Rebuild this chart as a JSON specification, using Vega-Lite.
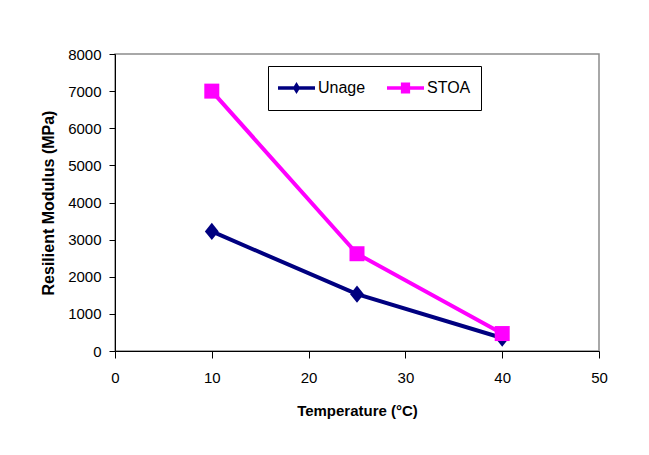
{
  "$schema": "https://vega.github.io/schema/vega-lite/v6.json",
  "autosize": {"type": "none"},
  "width": 484,
  "height": 297,
  "padding": {"left": 115, "top": 54, "right": 50, "bottom": 104},
  "background": "white",
  "config": {
    "font": "Liberation Sans",
    "view": {"stroke": "#8c8c8c", "strokeWidth": 1.5},
    "axis": {
      "grid": false,
      "domainColor": "black",
      "domainWidth": 1,
      "tickColor": "black",
      "tickWidth": 1,
      "labelColor": "black",
      "titleColor": "black",
      "labelFont": "Liberation Sans",
      "titleFont": "Liberation Sans",
      "labelFontSize": 15,
      "titleFontSize": 15,
      "titleFontWeight": "bold"
    }
  },
  "data": {
    "values": [
      {"series": "Unage", "temp": 10, "mr": 3220},
      {"series": "Unage", "temp": 25, "mr": 1530},
      {"series": "Unage", "temp": 40, "mr": 350},
      {"series": "STOA", "temp": 10, "mr": 7000},
      {"series": "STOA", "temp": 25, "mr": 2620},
      {"series": "STOA", "temp": 40, "mr": 470}
    ]
  },
  "encoding": {
    "x": {
      "field": "temp",
      "type": "quantitative",
      "title": "Temperature (°C)",
      "scale": {"domain": [0, 50], "nice": false},
      "axis": {"values": [0, 10, 20, 30, 40, 50], "tickSize": 7, "labelPadding": 12, "titlePadding": 18, "labelFlush": false}
    },
    "y": {
      "field": "mr",
      "type": "quantitative",
      "title": "Resilient Modulus (MPa)",
      "scale": {"domain": [0, 8000], "nice": false},
      "axis": {"values": [0, 1000, 2000, 3000, 4000, 5000, 6000, 7000, 8000], "tickSize": 6, "labelPadding": 8, "titlePadding": 11, "titleFontSize": 16, "format": "d", "labelFlush": false}
    },
    "color": {
      "field": "series",
      "type": "nominal",
      "scale": {"domain": ["Unage", "STOA"], "range": ["#000080", "#FF00FF"]},
      "legend": {
        "title": null,
        "orient": "none",
        "legendX": 153,
        "legendY": 12,
        "direction": "horizontal",
        "strokeColor": "black",
        "fillColor": "white",
        "padding": 10,
        "clipHeight": 24,
        "symbolSize": 1369,
        "symbolStrokeWidth": 0,
        "labelOffset": 3,
        "columnPadding": 21,
        "labelFontSize": 16,
        "labelColor": "black",
        "labelFont": "Liberation Sans",
        "encode": {
          "symbols": {
            "update": {
              "shape": {"signal": "datum.value === 'Unage' ? 'M-1,-0.1H1V0.1H-1Z M0,-0.32L0.2,0L0,0.32L-0.2,0Z' : 'M-1,-0.1H1V0.1H-1Z M-0.25,-0.3H0.25V0.3H-0.25Z'"},
              "fill": {"signal": "datum.value === 'Unage' ? '#000080' : '#FF00FF'"},
              "size": {"value": 1369}
            }
          }
        }
      }
    }
  },
  "layer": [
    {
      "mark": {"type": "line", "strokeWidth": 4}
    },
    {
      "transform": [{"filter": "datum.series === 'Unage'"}],
      "mark": {"type": "point", "filled": true, "opacity": 1, "shape": "M-0.8,0L0,-1L0.8,0L0,1Z", "size": 300}
    },
    {
      "transform": [{"filter": "datum.series === 'STOA'"}],
      "mark": {"type": "point", "filled": true, "opacity": 1, "shape": "square", "size": 225}
    }
  ]
}
